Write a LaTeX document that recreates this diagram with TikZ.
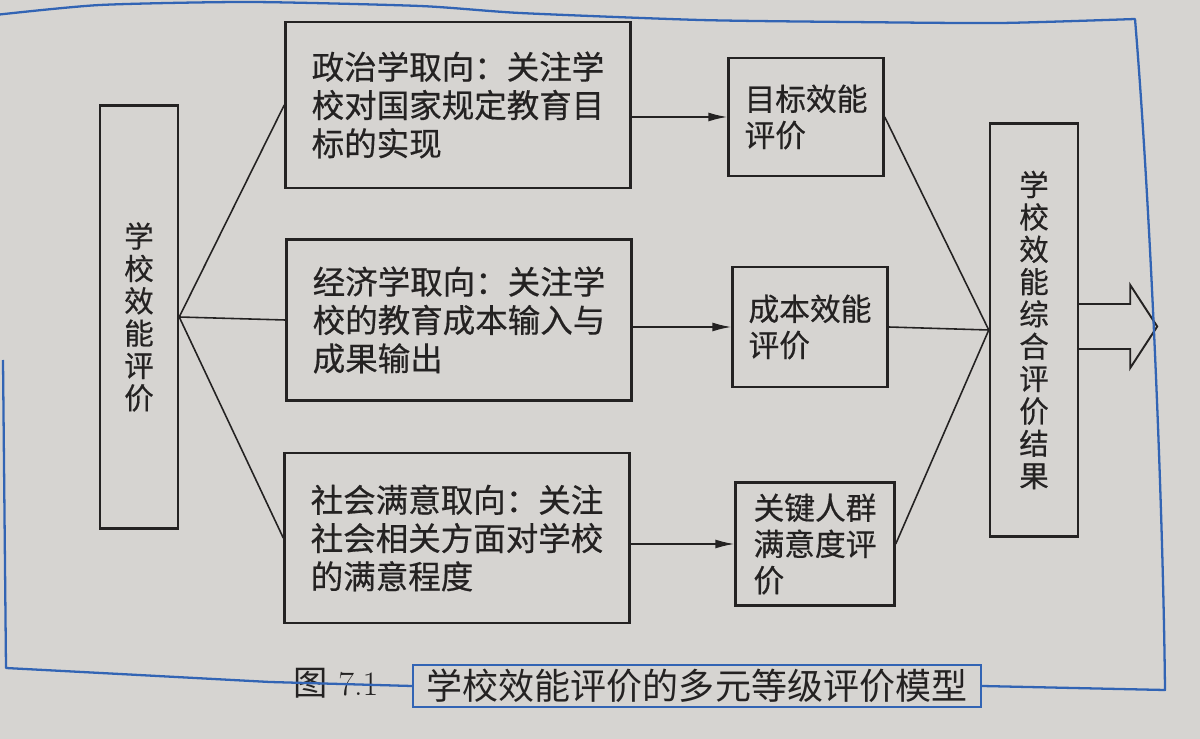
\documentclass[tikz,border=0pt]{standalone}
\usepackage{fontspec}
\newfontfamily\cjk{Noto Sans CJK SC}
\newfontfamily\cjkbold[FakeBold=0.5]{Noto Sans CJK SC}
\usetikzlibrary{arrows.meta}
\definecolor{paper}{RGB}{214,212,209}
\definecolor{ink}{RGB}{36,34,34}
\definecolor{pen}{RGB}{50,100,180}

\begin{document}
\begin{tikzpicture}[x=0.02cm, y=-0.02cm,
		column/.style={draw=ink, line width=1.4pt, text=ink, align=center, inner sep=0pt, font=\cjkbold\fontsize{16.8}{18.4}\selectfont},
		orient/.style={draw=ink, line width=1.4pt, text=ink, align=left, inner sep=0pt, minimum width=6.9cm, font=\cjkbold\fontsize{18.5}{21.8}\selectfont},
		effect/.style={draw=ink, line width=1.4pt, text=ink, align=left, inner sep=0pt, font=\cjkbold\fontsize{17.5}{20.6}\selectfont},
		link/.style={draw=ink, line width=0.9pt},
		feed/.style={link, -{Latex[length=3.8mm,width=1.8mm]}},
		capbox/.style={draw=pen, line width=1.3pt, text=ink, inner sep=0pt, minimum width=11.36cm, minimum height=0.84cm, font=\cjk\fontsize{20.5}{22}\selectfont}]
	\useasboundingbox (0,0) rectangle (1200,739);
	\fill [paper] (0,0) rectangle (1200,739);

	% left and right columns
	\node [column, minimum width=1.56cm, minimum height=8.46cm] (eval) at (139,317) {学\\校\\效\\能\\评\\价};
	\node [column, minimum width=1.76cm, minimum height=8.26cm] (result) at (1034,330) {学\\校\\效\\能\\综\\合\\评\\价\\结\\果};

	% three orientations
	\node [orient, minimum height=3.32cm] (pol) at (458,105) {政治学取向：关注学\\校对国家规定教育目\\标的实现};
	\node [orient, minimum height=3.22cm] (eco) at (459,320) {经济学取向：关注学\\校的教育成本输入与\\成果输出};
	\node [orient, minimum height=3.4cm] (soc) at (457,538) {社会满意取向：关注\\社会相关方面对学校\\的满意程度};

	% three evaluations
	\node [effect, minimum width=3.1cm, minimum height=2.36cm] (goal) at (806,117) {目标效能\\评价};
	\node [effect, minimum width=3.1cm, minimum height=2.4cm] (cost) at (810,327) {成本效能\\评价};
	\node [effect, minimum width=3.18cm, minimum height=2.46cm] (crowd) at (815,544) {关键人群\\满意度评\\价};

	\draw [link] (eval.east) -- (pol.west);
	\draw [link] (eval.east) -- (eco.west);
	\draw [link] (eval.east) -- (soc.west);

	\draw [feed] (pol.east |- goal.west) -- (goal.west);
	\draw [feed] (eco.east |- cost.west) -- (cost.west);
	\draw [feed] (soc.east |- crowd.west) -- (crowd.west);

	\draw [link] (goal.east) -- (result.west);
	\draw [link] (cost.east) -- (result.west);
	\draw [link] (crowd.east) -- (result.west);

	% hollow output arrow
	\draw [draw=ink, line width=1.1pt, line join=miter] (result.east) ++(0,-26) -- ++(51,0) -- ++(0,-19) -- ++(27,41.5) -- ++(-27,41.5) -- ++(0,-19) -- ++(-51,0);

	% caption
	\node [text=ink, inner sep=0pt, font=\fontsize{19.5}{22}\selectfont] (fig) at (336,683) {{\cjk 图}~7.1};
	\node [capbox] (title) at (697,686) {学校效能评价的多元等级评价模型};

	% pen frame
	\draw [pen, line width=1.3pt, line join=round] plot [smooth, tension=0.4] coordinates {(-5,15) (100,5) (250,2) (420,6) (520,13) (700,20) (850,22) (1000,23) (1135,19)}
		-- (1135,19) .. controls (1150,200) and (1163,500) .. (1165,690) -- (title.east);
	\draw [pen, line width=1.3pt, line join=round] (title.west) -- (270,682) -- (120,674) -- (6,668) -- (3,360);
\end{tikzpicture}
\end{document}
